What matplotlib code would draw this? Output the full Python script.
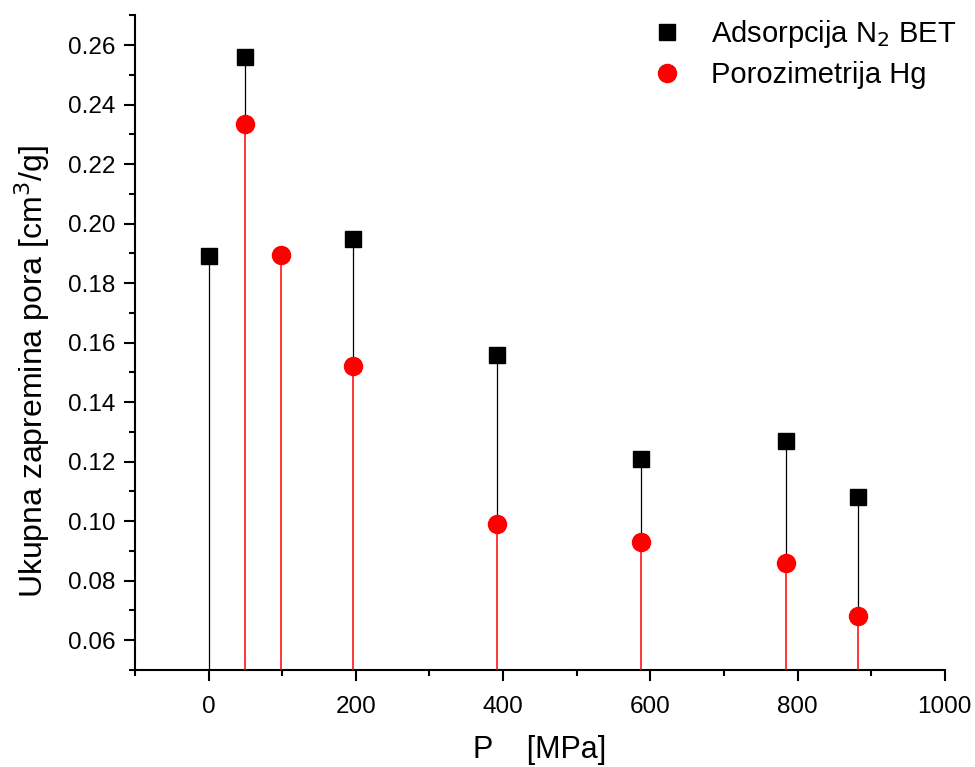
import matplotlib.pyplot as plt
from matplotlib.ticker import MultipleLocator

plt.rcParams["font.family"] = ["Liberation Sans", "DejaVu Sans"]

# pressing pressure (MPa)
P_BET = [0, 49, 196, 392, 588, 784, 882]
V_BET = [0.189, 0.256, 0.195, 0.156, 0.121, 0.127, 0.108]

P_HG = [49, 98, 196, 392, 588, 784, 882]
V_HG = [0.2335, 0.1895, 0.1523, 0.099, 0.0929, 0.0858, 0.0681]

Y0 = 0.05

fig = plt.figure(figsize=(9.75, 7.67), dpi=100)
ax = fig.add_axes([0.1385, 0.1265, 0.8305, 0.8535])

# drop lines down to the x axis; the black stem stops where the red one
# starts so the thin red line keeps its colour
hg_at = dict(zip(P_HG, V_HG))
bet_bottom = [hg_at.get(p, Y0) for p in P_BET]
ax.vlines(P_BET, bet_bottom, V_BET, color="black", linewidth=0.9, zorder=2)
ax.vlines(P_HG, Y0, V_HG, color="#ff0000", linewidth=1.1, zorder=3)

ax.plot(P_BET, V_BET, linestyle="none", marker="s", markersize=11.5,
        color="black", label="Adsorpcija N$_2$ BET", zorder=4)
ax.plot(P_HG, V_HG, linestyle="none", marker="o", markersize=13,
        color="red", label="Porozimetrija Hg", zorder=5)

ax.set_xlim(-100, 1000)
ax.set_ylim(Y0, 0.27)
ax.xaxis.set_major_locator(MultipleLocator(200))
ax.xaxis.set_minor_locator(MultipleLocator(100))
ax.yaxis.set_major_locator(MultipleLocator(0.02))
ax.yaxis.set_minor_locator(MultipleLocator(0.01))
ax.yaxis.set_major_formatter(plt.FormatStrFormatter("%.2f"))

ax.spines["top"].set_visible(False)
ax.spines["right"].set_visible(False)
for s in ("left", "bottom"):
    ax.spines[s].set_linewidth(1.5)
ax.tick_params(which="major", direction="out", length=8, width=1.5,
               labelsize=17.5, pad=6)
ax.tick_params(axis="x", which="major", pad=11)
ax.tick_params(which="minor", direction="out", length=4.5, width=1.5)

ax.set_xlabel("P    [MPa]", fontsize=22, labelpad=12)
ax.set_ylabel("Ukupna zapremina pora [cm$^3$/g]", fontsize=23)
ax.yaxis.set_label_coords(-0.1025, 0.456)

ax.legend(loc="upper left", bbox_to_anchor=(0.657, 0.992),
          bbox_transform=fig.transFigure, frameon=False, fontsize=21,
          handlelength=1.0, handletextpad=1.0, labelspacing=0.39,
          borderaxespad=0)

fig.savefig("out.png", dpi=100)
